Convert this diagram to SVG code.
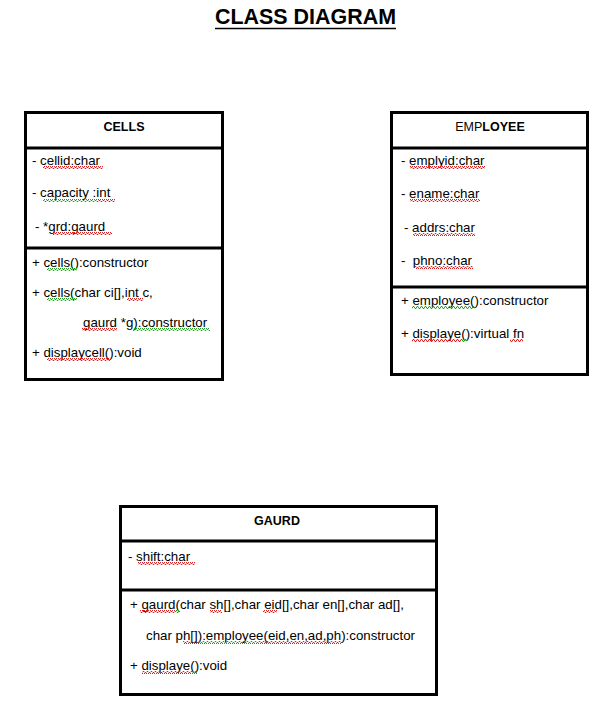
<svg xmlns="http://www.w3.org/2000/svg" width="605" height="723" viewBox="0 0 605 723">
<defs>
<pattern id="sqR" width="4" height="3" patternUnits="userSpaceOnUse"><path d="M0,2.5 L1,0.5 L2,0.5 L3,2.5 L4,2.5" fill="none" stroke="#e02020" stroke-width="1"/></pattern>
<pattern id="sqG" width="4" height="3" patternUnits="userSpaceOnUse"><path d="M0,2.5 L1,0.5 L2,0.5 L3,2.5 L4,2.5" fill="none" stroke="#20a020" stroke-width="1"/></pattern>
</defs>
<style>
.box{fill:#fff;stroke:#000;stroke-width:3}
.div{stroke:#000;stroke-width:3}
.t{font-family:"Liberation Sans",Arial,sans-serif;font-size:13.3px;fill:#000}
.h{font-family:"Liberation Sans",Arial,sans-serif;font-size:12.5px;font-weight:bold;fill:#000;text-anchor:middle}
.r{fill:url(#sqR)}
.g{fill:url(#sqG)}
</style>
<rect width="605" height="723" fill="#fff"/>
<g id="title">
<text x="215" y="24" font-family="'Liberation Sans',Arial,sans-serif" font-size="22.5" font-weight="bold" textLength="181" lengthAdjust="spacingAndGlyphs">CLASS DIAGRAM</text>
<line x1="215" y1="28.5" x2="396" y2="28.5" stroke="#000" stroke-width="1.5"/>
</g>
<g id="cells">
<rect class="box" x="25.5" y="112.5" width="197" height="267"/>
<line class="div" x1="25.5" y1="148" x2="222.5" y2="148"/>
<line class="div" x1="25.5" y1="248" x2="222.5" y2="248"/>
<text class="h" x="124" y="131">CELLS</text>
<text class="t" x="32" y="165">- cellid:char</text>
<text class="t" x="32" y="197">- capacity :int</text>
<text class="t" x="35" y="231">- *grd:gaurd</text>
<text class="t" x="32" y="267">+ cells():constructor</text>
<text class="t" x="32" y="297">+ cells(char ci[],int c,</text>
<text class="t" x="83" y="327">gaurd *g):constructor</text>
<text class="t" x="32" y="357">+ displaycell():void</text>
<rect class="r" x="43" y="166" width="60" height="3"/>
<rect class="g" x="43" y="199" width="54" height="3"/>
<rect class="r" x="97" y="199" width="18" height="3"/>
<rect class="r" x="53" y="232" width="59" height="3"/>
<rect class="g" x="47" y="268" width="30" height="3"/>
<rect class="g" x="47" y="298" width="30" height="3"/>
<rect class="r" x="127" y="298" width="16" height="3"/>
<rect class="r" x="82" y="328" width="35" height="3"/>
<rect class="g" x="133" y="328" width="77" height="3"/>
<rect class="r" x="47" y="358" width="63" height="3"/>
</g>
<g id="employee">
<rect class="box" x="391.5" y="112.5" width="196" height="262"/>
<line class="div" x1="391.5" y1="148" x2="587.5" y2="148"/>
<line class="div" x1="391.5" y1="287" x2="587.5" y2="287"/>
<text class="h" x="490" y="131"><tspan font-weight="normal">EMP</tspan>LOYEE</text>
<text class="t" x="401" y="165">- emplyid:char</text>
<text class="t" x="401" y="198">- ename:char</text>
<text class="t" x="404" y="232">- addrs:char</text>
<text class="t" x="401" y="265" xml:space="preserve">-  phno:char</text>
<text class="t" x="401" y="305">+ employee():constructor</text>
<text class="t" x="401" y="338">+ displaye():virtual fn</text>
<rect class="r" x="410" y="166" width="75" height="3"/>
<rect class="r" x="410" y="199" width="70" height="3"/>
<rect class="r" x="413" y="233" width="62" height="3"/>
<rect class="r" x="415" y="266" width="58" height="3"/>
<rect class="g" x="412" y="306" width="63" height="3"/>
<rect class="r" x="412" y="339" width="50" height="3"/>
<rect class="g" x="462" y="339" width="5" height="3"/>
<rect class="r" x="510" y="339" width="13" height="3"/>
</g>
<g id="gaurd">
<rect class="box" x="120.5" y="506.5" width="316" height="188"/>
<line class="div" x1="120.5" y1="541" x2="436.5" y2="541"/>
<line class="div" x1="120.5" y1="590" x2="436.5" y2="590"/>
<text class="h" x="277" y="525">GAURD</text>
<text class="t" x="128" y="561">- shift:char</text>
<text class="t" x="130" y="609">+ gaurd(char sh[],char eid[],char en[],char ad[],</text>
<text class="t" x="146" y="640">char ph[]):employee(eid,en,ad,ph):constructor</text>
<text class="t" x="130" y="670">+ displaye():void</text>
<rect class="r" x="138" y="562" width="57" height="3"/>
<rect class="r" x="140" y="610" width="35" height="3"/>
<rect class="g" x="175" y="610" width="5" height="3"/>
<rect class="r" x="210" y="610" width="12" height="3"/>
<rect class="r" x="263" y="610" width="14" height="3"/>
<rect class="r" x="183" y="641" width="17" height="3"/>
<rect class="g" x="200" y="641" width="60" height="3"/>
<rect class="r" x="260" y="641" width="82" height="3"/>
<rect class="r" x="142" y="671" width="50" height="3"/>
<rect class="g" x="192" y="671" width="5" height="3"/>
</g>
<g id="connectors"></g>
</svg>
